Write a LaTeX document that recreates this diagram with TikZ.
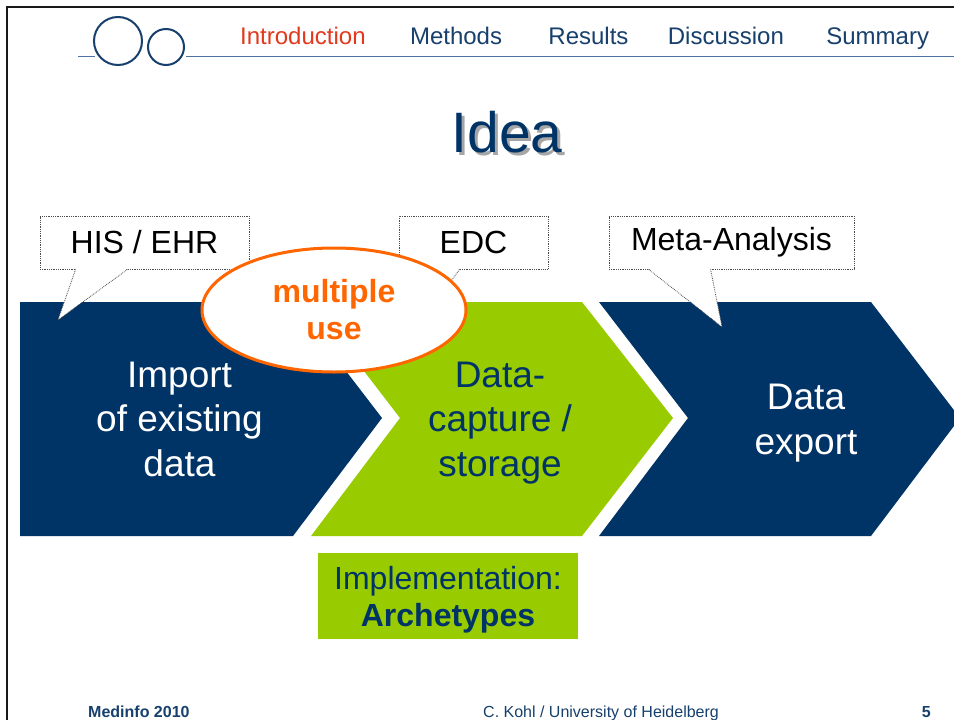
\documentclass[tikz,border=0pt]{standalone}
\usepackage{fontspec}
\setmainfont{Liberation Sans}
\usetikzlibrary{positioning,shapes.geometric}
\definecolor{navy}{HTML}{003366}
\definecolor{lime}{HTML}{99CC00}
\definecolor{signal}{HTML}{FF6600}
\definecolor{activetab}{HTML}{E2381C}
\definecolor{tabblue}{HTML}{17406D}
\definecolor{rulecol}{HTML}{4F73A0}
\tikzset{
    %Define style for menu entries
    menu/.style={
           inner sep=0pt,
           text=tabblue,
           font=\fontsize{24}{28}\selectfont},
    %Define style for the process arrows
    chevron/.style={
           fill=navy,
           draw=none},
    %Define style for text on the arrows
    steptext/.style={
           align=center,
           inner sep=0pt,
           font=\fontsize{37}{44.5}\selectfont},
    %Define style for speech bubbles
    bubble/.style={
           draw=black!70,
           densely dotted,
           line width=0.8pt,
           fill=white,
           inner sep=0pt,
           minimum height=53pt,
           font=\fontsize{32}{38}\selectfont},
    % Define pointer style
    pointer/.style={
           draw=black!70,
           densely dotted,
           line width=0.8pt},
    % Define style for highlight ellipse
    highlight/.style={
           ellipse,
           draw=signal,
           line width=3pt,
           fill=white,
           inner sep=0pt,
           minimum width=264pt,
           minimum height=124pt,
           align=center,
           text=signal,
           font=\fontsize{32}{37}\selectfont\bfseries},
    footer/.style={
           inner sep=0pt,
           text=tabblue,
           font=\fontsize{16}{19}\selectfont}
}

\begin{document}
\begin{tikzpicture}[x=1pt, y=-1pt, node distance=44pt]
\useasboundingbox (0,0) rectangle (954,720);
\fill[white] (0,0) rectangle (954,720);
\draw[black!90, line width=2.5pt] (7,720) -- (7,7) -- (954,7);

% header
\draw[rulecol, line width=1.5pt] (78,56.7) -- (95,56.7);
\draw[rulecol, line width=1.5pt] (186,56.7) -- (954,56.7);
\draw[tabblue, line width=2pt] (118,41) circle (24pt);
\draw[tabblue, line width=2pt] (166,47) circle (18pt);
\node[menu, text=activetab, anchor=base west] (intro) at (240,45) {Introduction};
\node[menu, base right=of intro] (methods) {Methods};
\node[menu, base right=46pt of methods] (results) {Results};
\node[menu, base right=39pt of results] (discussion) {Discussion};
\node[menu, base right=42pt of discussion] (summary) {Summary};

\node[text=black!35, anchor=base, font=\fontsize{57}{60}\selectfont] (ideashade) at (510,155) {Idea};
\node[text=navy, anchor=base, font=\fontsize{57}{60}\selectfont] (idea) at (507,152) {Idea};

% process arrows
\fill[chevron] (20,302) -- (293,302) -- (382,418) -- (293,536) -- (20,536) -- cycle;
\fill[chevron, fill=lime] (311,302) -- (582,302) -- (673,418) -- (582,536) -- (311,536) -- (400,418) -- cycle;
\fill[chevron] (599,302) -- (871,302) -- (960,418) -- (871,536) -- (599,536) -- (688,418) -- cycle;
\node[steptext, text=white] (import) at (179.5,419) {Import\\of existing\\data};
\node[steptext, text=navy] (capture) at (500,423) {Data-\\capture /\\storage};
\node[steptext, text=white] (export) at (806,423) {Data\\export};

% speech bubbles
\node[bubble, minimum width=209pt] (his) at (144.5,242.5) {HIS / EHR};
\coordinate (histip) at (58,320);
\fill[white] ([xshift=36pt,yshift=1pt]his.south west) -- (histip) -- ([xshift=88pt,yshift=1pt]his.south west) -- cycle;
\draw[pointer] ([xshift=36pt]his.south west) -- (histip) -- ([xshift=88pt]his.south west);

\node[bubble, minimum width=149pt] (edc) at (473.5,242.5) {EDC};
\coordinate (edctip) at (421,322);
\fill[white] ([xshift=21pt,yshift=1pt]edc.south west) -- (edctip) -- ([xshift=61pt,yshift=1pt]edc.south west) -- cycle;
\draw[pointer] ([xshift=21pt]edc.south west) -- (edctip) -- ([xshift=61pt]edc.south west);

\node[bubble, minimum width=245pt] (meta) at (731.5,242.5) {Meta-Analysis};
\coordinate (metatip) at (722,327);
\fill[white] ([xshift=40pt,yshift=1pt]meta.south west) -- (metatip) -- ([xshift=102pt,yshift=1pt]meta.south west) -- cycle;
\draw[pointer] ([xshift=40pt]meta.south west) -- (metatip) -- ([xshift=102pt]meta.south west);

\node[highlight] (reuse) at (334,310) {multiple\\use};

\node[fill=lime, text=navy, align=center, inner sep=0pt, minimum width=260pt, minimum height=86pt,
      text depth=0pt, font=\fontsize{32}{37}\selectfont] (impl) at (448,596) {Implementation:\\\textbf{Archetypes}};

% footer
\node[footer, font=\fontsize{16}{19}\selectfont\bfseries, anchor=base west] (conf) at (88,717) {Medinfo 2010};
\node[footer, anchor=base west] (author) at (483,717) {C. Kohl / University of Heidelberg};
\node[footer, font=\fontsize{16}{19}\selectfont\bfseries, anchor=base east] (page) at (931,717) {5};
\end{tikzpicture}
\end{document}
